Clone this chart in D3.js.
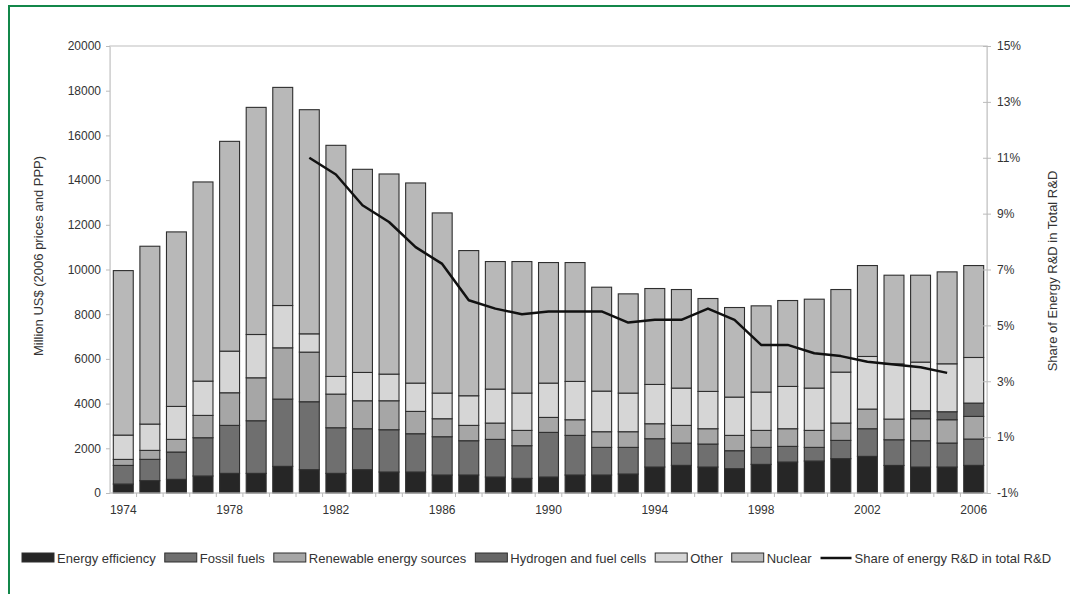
<!DOCTYPE html>
<html><head><meta charset="utf-8">
<script src="https://cdn.jsdelivr.net/npm/d3@7"></script>
<style>
body{margin:0;background:#fff;}
svg text{font-family:"Liberation Sans",Arial,sans-serif;fill:#333;}
</style></head>
<body><svg id="c" width="1070" height="594"></svg>
<script>
const years = d3.range(1974, 2007);
const energyEfficiency = [400,551,611,760,879,879,1192,1043,879,1043,939,939,805,805,715,656,715,805,805,849,1162,1237,1162,1088,1281,1386,1430,1535,1639,1234,1162,1162,1237];
const fossilFuels = [835,954,1222,1713,2146,2354,3010,3040,2041,1833,1892,1713,1713,1534,1684,1460,1997,1773,1236,1192,1267,998,1028,804,760,700,611,819,1237,1148,1177,1073,1177];
const renewables = [268,402,566,999,1460,1922,2294,2220,1505,1251,1296,999,805,686,730,685,670,700,701,701,670,790,686,686,760,790,760,775,879,925,984,1043,1013];
const hydrogen = [0,0,0,0,0,0,0,0,0,0,0,0,0,0,0,0,0,0,0,0,0,0,0,0,0,0,0,0,0,0,357,358,596];
const other = [1088,1177,1475,1534,1862,1937,1893,819,790,1267,1192,1266,1147,1326,1520,1669,1535,1714,1817,1728,1758,1669,1669,1713,1714,1892,1893,2280,2354,2471,2176,2145,2041];
const nuclear = [7360,7957,7808,8911,9387,10162,9759,10028,10341,9089,8955,8955,8061,6496,5707,5886,5394,5319,4649,4440,4292,4410,4157,4008,3859,3844,3978,3695,4068,3967,3889,4113,4113];
const shareYears = d3.range(1981, 2006);
const shareValues = [11.0,10.4,9.3,8.7,7.8,7.2,5.9,5.6,5.4,5.5,5.5,5.5,5.1,5.2,5.2,5.6,5.2,4.3,4.3,4.0,3.9,3.7,3.6,3.5,3.3];
const seriesNames = ["Energy efficiency","Fossil fuels","Renewable energy sources","Hydrogen and fuel cells","Other","Nuclear"];
const seriesColors = ["#262626","#6f6f6f","#a6a6a6","#666666","#d6d6d6","#b8b8b8"];
const leftTicks = [0,2000,4000,6000,8000,10000,12000,14000,16000,18000,20000];
const rightTicks = [-1,1,3,5,7,9,11,13,15];
const xLabelYears = [1974,1978,1982,1986,1990,1994,1998,2002,2006];
const lineLabel = "Share of energy R&D in total R&D";

const svg = d3.select("#c");
// green frame
svg.append("path").attr("d","M9,600 V6 H1075").attr("fill","none").attr("stroke","#13874a").attr("stroke-width",2);

const L=110, R=987, T=46, B=493;
const x = d3.scaleBand().domain(years).range([L,R]).paddingInner(0.25).paddingOuter(0.125);
const y = d3.scaleLinear().domain([0,20000]).range([B,T]);
const y2 = d3.scaleLinear().domain([-1,15]).range([B,T]);

// plot frame
svg.append("rect").attr("x",L).attr("y",T).attr("width",R-L).attr("height",B-T)
  .attr("fill","none").attr("stroke","#d4d4d4").attr("stroke-width",1.5);

const keys = ["ee","ff","re","hy","ot","nu"];
const rows = years.map((yr,i)=>({year:yr,ee:energyEfficiency[i],ff:fossilFuels[i],re:renewables[i],hy:hydrogen[i],ot:other[i],nu:nuclear[i]}));
const stack = d3.stack().keys(keys)(rows);

const g = svg.append("g");
stack.forEach((s,si)=>{
  g.selectAll(null).data(s.filter(d=>d[1]-d[0]>0)).enter().append("rect")
    .attr("x",d=>x(d.data.year)).attr("width",x.bandwidth())
    .attr("y",d=>y(d[1])).attr("height",d=>y(d[0])-y(d[1]))
    .attr("fill",seriesColors[si]).attr("stroke","#2e2e2e").attr("stroke-width",1.1);
});

// left axis
const ya = d3.axisLeft(y).tickValues(leftTicks).tickSize(4).tickPadding(5).tickFormat(d3.format("d"));
const gl = svg.append("g").attr("transform",`translate(${L},0)`).call(ya);
gl.select(".domain").attr("stroke","#d4d4d4");
gl.selectAll(".tick line").attr("stroke","#bbb");
gl.selectAll("text").style("font-size","12px").attr("fill","#333");

// right axis
const ra = d3.axisRight(y2).tickValues(rightTicks).tickSize(4).tickPadding(6).tickFormat(d=>d+"%");
const gr = svg.append("g").attr("transform",`translate(${R},0)`).call(ra);
gr.select(".domain").attr("stroke","#cfcfcf");
gr.selectAll(".tick line").attr("stroke","#bbb").attr("x1",-4);
gr.selectAll("text").style("font-size","12px").attr("fill","#333");

// x axis
const gx = svg.append("g").attr("transform",`translate(0,${B})`);
gx.append("line").attr("x1",L).attr("x2",R).attr("stroke","#cfcfcf");
gx.selectAll(".tk").data(years.slice(1)).enter().append("line")
  .attr("x1",d=>x(d)-x.step()*x.paddingInner()/2).attr("x2",d=>x(d)-x.step()*x.paddingInner()/2)
  .attr("y1",0).attr("y2",4).attr("stroke","#bbb");
gx.selectAll(".lb").data(xLabelYears).enter().append("text")
  .attr("x",d=>x(d)+x.bandwidth()/2).attr("y",21).attr("text-anchor","middle")
  .style("font-size","12px").text(d=>d);

// share line
const line = d3.line().x((d,i)=>x(shareYears[i])+x.bandwidth()/2).y(d=>y2(d));
svg.append("path").datum(shareValues).attr("d",line).attr("fill","none")
  .attr("stroke","#111").attr("stroke-width",2.5).attr("stroke-linejoin","round");

// axis titles
svg.append("text").attr("transform","translate(43,256) rotate(-90)").attr("text-anchor","middle")
  .style("font-size","13px").text("Million US$ (2006 prices and PPP)");
svg.append("text").attr("transform","translate(1057,271) rotate(-90)").attr("text-anchor","middle")
  .style("font-size","13px").text("Share of Energy R&D in Total R&D");

// legend
const lg = svg.append("g").attr("transform","translate(0,558)");
let cx = 22;
seriesNames.forEach((n,i)=>{
  lg.append("rect").attr("x",cx).attr("y",-5).attr("width",32).attr("height",9)
    .attr("fill",seriesColors[i]).attr("stroke","#2e2e2e").attr("stroke-width",1);
  const t = lg.append("text").attr("x",cx+35).attr("y",5).style("font-size","13px").text(n);
  cx += 35 + t.node().getComputedTextLength() + 9;
});
lg.append("line").attr("x1",cx).attr("x2",cx+31).attr("y1",0).attr("y2",0).attr("stroke","#111").attr("stroke-width",2.5);
lg.append("text").attr("x",cx+34).attr("y",5).style("font-size","13px").text(lineLabel);
</script></body></html>
